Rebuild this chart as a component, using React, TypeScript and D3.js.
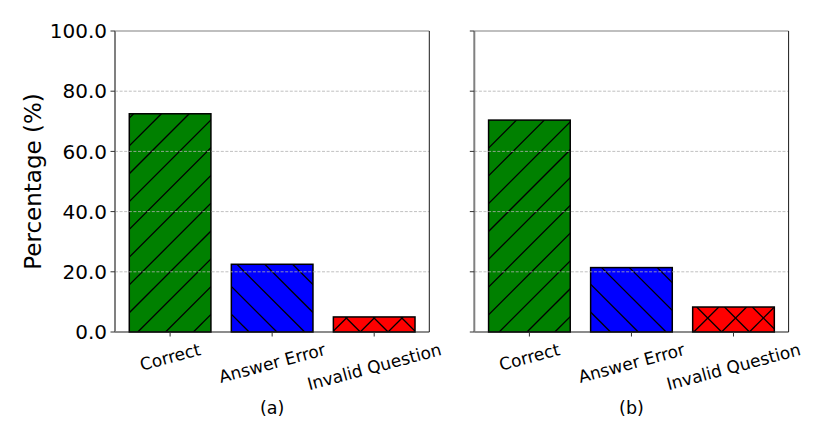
import React from "react";
import * as d3 from "d3";

const categories = ["Correct", "Answer Error", "Invalid Question"];
const valuesA = [72.5, 22.5, 5.0];
const valuesB = [70.4, 21.4, 8.3];
const yTickValues = [0, 20, 40, 60, 80, 100];
const gridValues = [20, 40, 60, 80];
const panelLabels = ["(a)", "(b)"];
const barColors = ["#008000", "#0000ff", "#ff0000"];
const hatches = ["/", "\\", "x"];

const W = 830;
const H = 429;
const TOP = 31;
const BOTTOM = 332;
const PANEL_LEFTS = [115, 474.3];
const PANEL_W = 314.3;
const HATCH = 27.8;
const C1 = 25;
const C2 = 0.5;
const FONT = "'DejaVu Sans', sans-serif";
const ANGLE = 15;

let _ctx: CanvasRenderingContext2D | null = null;
function measure(text: string, size: number): number {
  if (!_ctx) {
    const c = document.createElement("canvas");
    _ctx = c.getContext("2d");
  }
  if (!_ctx) return text.length * size * 0.6;
  _ctx.font = `${size}px 'DejaVu Sans'`;
  return _ctx.measureText(text).width;
}

function hatchLines(x0: number, y0: number, x1: number, y1: number, kind: string) {
  const segs: [number, number, number, number][] = [];
  if (kind === "/" || kind === "x") {
    const lo = x0 + y0, hi = x1 + y1;
    let k = Math.floor((lo - C1) / HATCH) - 1;
    for (; C1 + k * HATCH <= hi + HATCH; k++) {
      const c = C1 + k * HATCH;
      segs.push([c - y0, y0, c - y1, y1]);
    }
  }
  if (kind === "\\" || kind === "x") {
    const lo = x0 - y1, hi = x1 - y0;
    let k = Math.floor((lo - C2) / HATCH) - 1;
    for (; C2 + k * HATCH <= hi + HATCH; k++) {
      const c = C2 + k * HATCH;
      segs.push([c + y0, y0, c + y1, y1]);
    }
  }
  return segs;
}

function Panel({ values, left, label, showYLabels, idx }: { values: number[]; left: number; label: string; showYLabels: boolean; idx: number }) {
  const y = d3.scaleLinear().domain([0, 100]).range([BOTTOM, TOP]);
  const x = d3.scaleLinear().domain([-0.54, 2.54]).range([left, left + PANEL_W]);
  const right = left + PANEL_W;
  const tickLen = 4.5;
  const fsX = 17;
  const theta = (ANGLE * Math.PI) / 180;
  const y0 = BOTTOM + 7.2;
  return (
    <g>
      <defs>
        {values.map((v, i) => (
          <clipPath id={`clip-${idx}-${i}`} key={i}>
            <rect x={x(i - 0.4)} y={y(v)} width={x(i + 0.4) - x(i - 0.4)} height={y(0) - y(v)} />
          </clipPath>
        ))}
      </defs>
      {values.map((v, i) => {
        const bx0 = x(i - 0.4), bx1 = x(i + 0.4), by0 = y(v), by1 = y(0);
        return (
          <g key={i}>
            <rect x={bx0} y={by0} width={bx1 - bx0} height={by1 - by0} fill={barColors[i]} />
            <g clipPath={`url(#clip-${idx}-${i})`}>
              {hatchLines(bx0, by0, bx1, by1, hatches[i]).map((s, j) => (
                <line key={j} x1={s[0]} y1={s[1]} x2={s[2]} y2={s[3]} stroke="#000" strokeWidth={1.3} />
              ))}
            </g>
            <rect x={bx0} y={by0} width={bx1 - bx0} height={by1 - by0} fill="none" stroke="#000" strokeWidth={1.5} />
          </g>
        );
      })}
      {gridValues.map((g) => (
        <line key={g} x1={left} x2={right} y1={y(g)} y2={y(g)} stroke="#b0b0b0" strokeWidth={0.8} strokeDasharray="3,1.6" />
      ))}
      <line x1={left} x2={right} y1={TOP} y2={TOP} stroke="#808080" strokeWidth={1.2} />
      <line x1={right} x2={right} y1={TOP} y2={BOTTOM} stroke="#1a1a1a" strokeWidth={1} />
      <line x1={left} x2={right} y1={BOTTOM} y2={BOTTOM} stroke="#1a1a1a" strokeWidth={1.2} />
      <line x1={left} x2={left} y1={TOP} y2={BOTTOM} stroke="#808080" strokeWidth={2} />
      {yTickValues.map((t) => (
        <g key={t}>
          <line x1={left - tickLen} x2={left} y1={y(t)} y2={y(t)} stroke="#333" strokeWidth={1} />
          {showYLabels && (
            <text x={left - 8} y={y(t)} dy="0.36em" textAnchor="end" fontFamily={FONT} fontSize={20} fill="#000">
              {d3.format(".1f")(t)}
            </text>
          )}
        </g>
      ))}
      {categories.map((c, i) => {
        const w = measure(c, fsX);
        const h = fsX * 1.164;
        const Hb = w * Math.sin(theta) + h * Math.cos(theta);
        const cx = x(i);
        const cy = y0 + Hb / 2;
        return (
          <g key={c}>
            <line x1={cx} x2={cx} y1={BOTTOM} y2={BOTTOM + tickLen} stroke="#333" strokeWidth={1} />
            <text x={cx} y={cy} dy="0.36em" textAnchor="middle" fontFamily={FONT} fontSize={fsX} fill="#000" transform={`rotate(${-ANGLE},${cx},${cy})`}>
              {c}
            </text>
          </g>
        );
      })}
      <text x={(left + right) / 2} y={407.5} dy="0.36em" textAnchor="middle" fontFamily={FONT} fontSize={17.5} fill="#000">
        {label}
      </text>
    </g>
  );
}

export default function App() {
  const data = [valuesA, valuesB];
  return (
    <svg width={W} height={H} style={{ position: "absolute", left: 0, top: 0, background: "#fff" }}>
      <rect x={0} y={0} width={W} height={H} fill="#fff" />
      {data.map((vals, i) => (
        <Panel key={i} idx={i} values={vals} left={PANEL_LEFTS[i]} label={panelLabels[i]} showYLabels={i === 0} />
      ))}
      <text x={33} y={(TOP + BOTTOM) / 2} dy="0.36em" textAnchor="middle" fontFamily={FONT} fontSize={23} fill="#000" transform={`rotate(-90,33,${(TOP + BOTTOM) / 2})`}>
        Percentage (%)
      </text>
    </svg>
  );
}
